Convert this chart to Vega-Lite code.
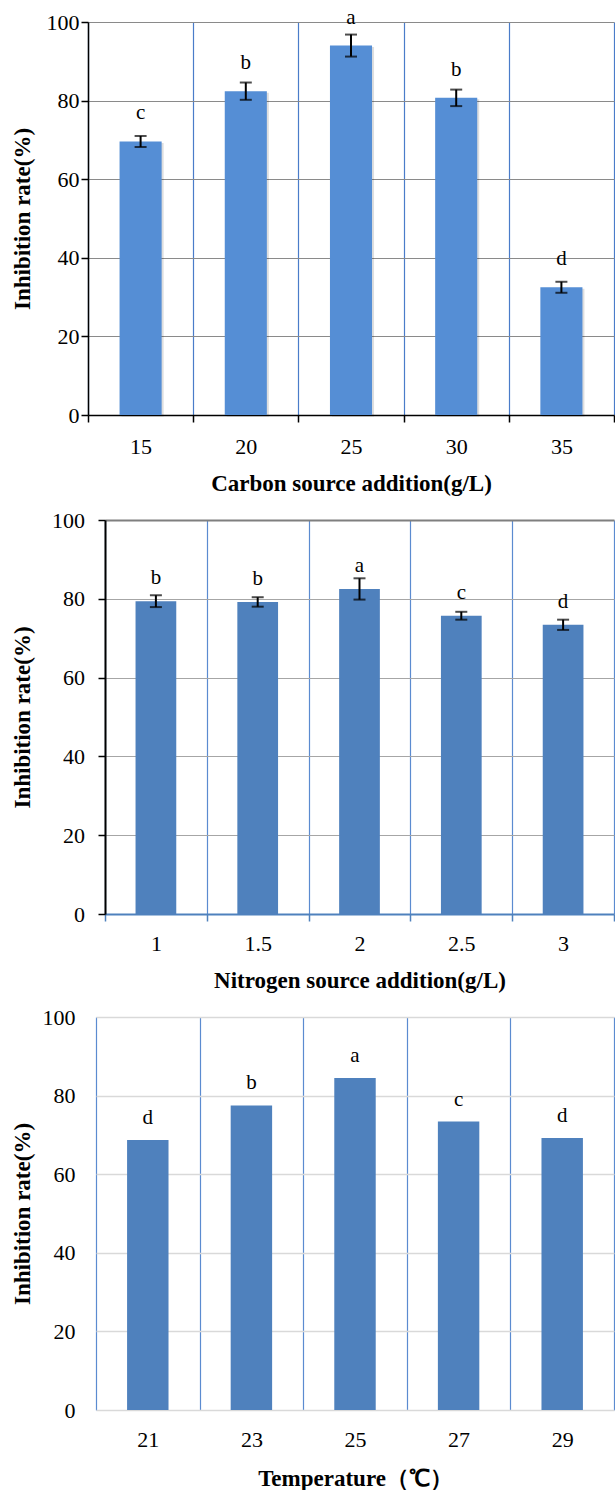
{
  "$schema": "https://vega.github.io/schema/vega-lite/v6.json",
  "background": "white",
  "padding": {"left": 11, "top": 6, "right": 0, "bottom": 0},
  "columns": 1,
  "spacing": 14,
  "config": {
    "font": "Liberation Serif",
    "view": {"stroke": null},
    "axis": {
      "labelFont": "Liberation Serif",
      "labelFontSize": 22,
      "labelColor": "black",
      "titleFont": "Liberation Serif",
      "titleFontSize": 23,
      "titleFontWeight": "bold",
      "titleColor": "black"
    }
  },
  "concat": [
    {
      "width": 526,
      "height": 393,
      "data": {"values": [
        {"carbon": "15", "rate": 69.6, "sd": 1.4, "sig": "c"},
        {"carbon": "20", "rate": 82.4, "sd": 2.2, "sig": "b"},
        {"carbon": "25", "rate": 94.0, "sd": 2.8, "sig": "a"},
        {"carbon": "30", "rate": 80.7, "sd": 2.1, "sig": "b"},
        {"carbon": "35", "rate": 32.5, "sd": 1.4, "sig": "d"}
      ]},
      "encoding": {
        "x": {
          "field": "carbon", "type": "ordinal", "sort": null,
          "scale": {"paddingInner": 0, "paddingOuter": 0},
          "axis": {
            "title": "Carbon source addition(g/L)",
            "labelFont": "Liberation Serif",
            "labelAngle": 0,
            "tickBand": "extent",
            "grid": true, "gridColor": "#4a7cc9", "gridWidth": 1.2,
            "domainColor": "black", "domainWidth": 1.5,
            "tickColor": "black", "tickSize": 7, "tickWidth": 1.5,
            "labelPadding": 14, "titlePadding": 15
          }
        },
        "y": {
          "field": "rate", "type": "quantitative",
          "scale": {"domain": [0, 100]},
          "axis": {
            "title": "Inhibition rate(%)",
            "labelFont": "Liberation Serif",
            "values": [0, 20, 40, 60, 80, 100],
            "grid": true, "gridColor": "#8a8a8a", "gridWidth": 1.2,
            "domainColor": "black", "domainWidth": 1.5,
            "tickColor": "black", "tickSize": 7, "tickWidth": 1.5,
            "labelPadding": 2, "titlePadding": 12
          }
        }
      },
      "layer": [
        {"mark": {"type": "bar", "color": "#000000", "opacity": 0.13, "width": {"band": 0.4}, "xOffset": 2, "yOffset": 1.5}},
        {"mark": {"type": "bar", "color": "#558ED5", "width": {"band": 0.4}}},
        {
          "mark": {"type": "errorbar", "color": "black", "thickness": 2, "ticks": {"size": 12, "thickness": 2, "color": "black"}},
          "encoding": {"yError": {"field": "sd"}}
        },
        {
          "mark": {"type": "text", "font": "Liberation Serif", "fontSize": 21, "baseline": "alphabetic", "dy": -22, "color": "black"},
          "encoding": {"text": {"field": "sig"}}
        }
      ]
    },
    {
      "width": 526,
      "height": 394,
      "data": {"values": [
        {"nitrogen": "1", "rate": 79.4, "sd": 1.5, "sig": "b"},
        {"nitrogen": "1.5", "rate": 79.2, "sd": 1.2, "sig": "b"},
        {"nitrogen": "2", "rate": 82.5, "sd": 2.7, "sig": "a"},
        {"nitrogen": "2.5", "rate": 75.7, "sd": 1.0, "sig": "c"},
        {"nitrogen": "3", "rate": 73.4, "sd": 1.3, "sig": "d"}
      ]},
      "encoding": {
        "x": {
          "field": "nitrogen", "type": "ordinal", "sort": null,
          "scale": {"paddingInner": 0, "paddingOuter": 0, "range": [17, 526]},
          "axis": {
            "title": "Nitrogen source addition(g/L)",
            "labelFont": "Liberation Serif",
            "labelAngle": 0,
            "tickBand": "extent",
            "grid": true, "gridColor": "#5b8bd0", "gridWidth": 1.2,
            "domainColor": "#4F81BD", "domainWidth": 2,
            "tickColor": "#4F81BD", "tickSize": 7, "tickWidth": 1.5,
            "labelPadding": 12, "titlePadding": 15
          }
        },
        "y": {
          "field": "rate", "type": "quantitative",
          "scale": {"domain": [0, 100]},
          "axis": {
            "title": "Inhibition rate(%)",
            "labelFont": "Liberation Serif",
            "offset": -17,
            "values": [0, 20, 40, 60, 80, 100],
            "grid": true,
            "gridColor": {"condition": {"test": "datum.value === 100", "value": "#7f7f7f"}, "value": "#a6a6a6"},
            "gridWidth": {"condition": {"test": "datum.value === 100", "value": 2}, "value": 1.2},
            "domainColor": "black", "domainWidth": 2,
            "tickColor": "black", "tickSize": 7, "tickWidth": 1.5,
            "labelPadding": 13.5, "titlePadding": 17.5
          }
        }
      },
      "layer": [
        {"mark": {"type": "bar", "color": "#4F81BD", "width": {"band": 0.4}}},
        {
          "mark": {"type": "errorbar", "color": "black", "thickness": 2, "ticks": {"size": 12, "thickness": 2, "color": "black"}},
          "encoding": {"yError": {"field": "sd"}}
        },
        {
          "mark": {"type": "text", "font": "Liberation Serif", "fontSize": 21, "baseline": "alphabetic", "dy": -17, "color": "black"},
          "encoding": {"text": {"field": "sig"}}
        }
      ]
    },
    {
      "width": 526,
      "height": 393,
      "data": {"values": [
        {"temp": "21", "rate": 68.7, "sig": "d"},
        {"temp": "23", "rate": 77.5, "sig": "b"},
        {"temp": "25", "rate": 84.5, "sig": "a"},
        {"temp": "27", "rate": 73.4, "sig": "c"},
        {"temp": "29", "rate": 69.2, "sig": "d"}
      ]},
      "encoding": {
        "x": {
          "field": "temp", "type": "ordinal", "sort": null,
          "scale": {"paddingInner": 0, "paddingOuter": 0, "range": [8, 526]},
          "axis": {
            "title": "Temperature（℃）",
            "labelFont": "Liberation Serif",
            "labelAngle": 0,
            "tickBand": "extent",
            "grid": true, "gridColor": "#5b8bd0", "gridWidth": 1.2,
            "domain": false, "ticks": false,
            "labelPadding": 19, "titlePadding": 17
          }
        },
        "y": {
          "field": "rate", "type": "quantitative",
          "scale": {"domain": [0, 100]},
          "axis": {
            "title": "Inhibition rate(%)",
            "labelFont": "Liberation Serif",
            "offset": -8,
            "values": [0, 20, 40, 60, 80, 100],
            "grid": true, "gridColor": "#d9d9d9", "gridWidth": 1.5,
            "domain": false, "ticks": false,
            "labelPadding": 21, "titlePadding": 7.5
          }
        }
      },
      "layer": [
        {"mark": {"type": "bar", "color": "#4F81BD", "width": {"band": 0.4}}},
        {
          "mark": {"type": "text", "font": "Liberation Serif", "fontSize": 21, "baseline": "alphabetic", "dy": -16, "color": "black"},
          "encoding": {"text": {"field": "sig"}}
        }
      ]
    }
  ]
}
